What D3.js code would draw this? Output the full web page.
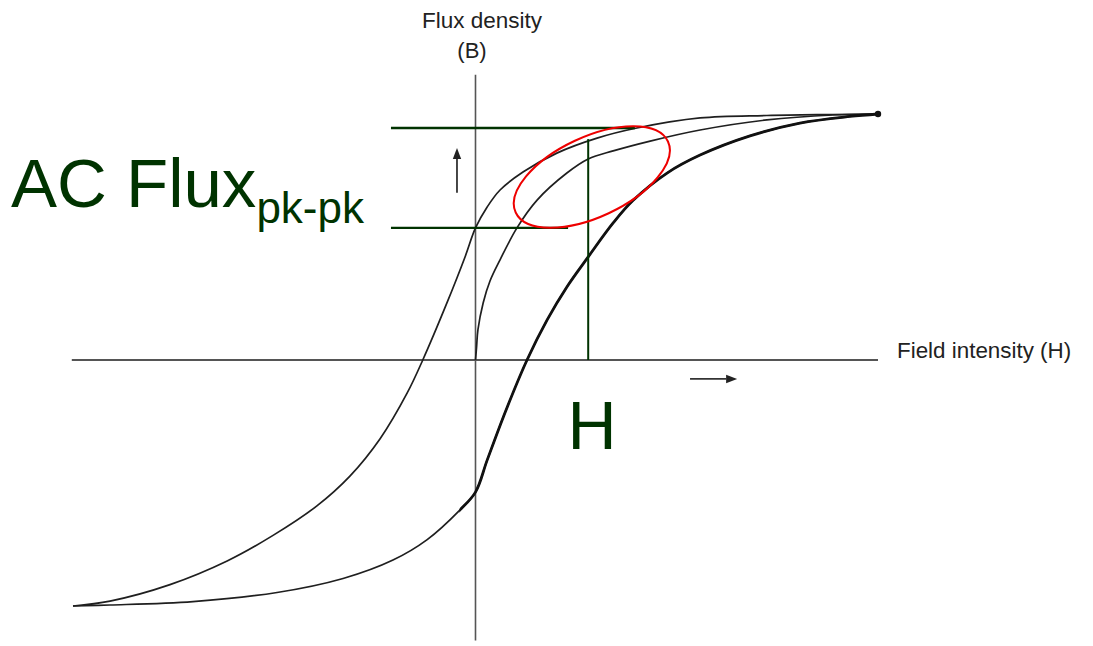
<!DOCTYPE html>
<html>
<head>
<meta charset="utf-8">
<script src="https://cdn.jsdelivr.net/npm/d3@7"></script>
<style>
  html, body { margin: 0; padding: 0; background: #ffffff; }
  svg { display: block; }
</style>
</head>
<body>
<script>
// B-H hysteresis loop, field intensity H and flux density B normalised to ±1.

// Descending branch (coming down from positive saturation), listed by rising H
const descendingBranch = [
  [-1.000, -1.000], [-0.908, -0.980], [-0.759, -0.913], [-0.617, -0.817],
  [-0.503, -0.713], [-0.394, -0.593], [-0.312, -0.472], [-0.237, -0.320],
  [-0.170, -0.135], [-0.131, 0.000], [-0.071, 0.232], [-0.026, 0.419],
  [0.000, 0.537], [0.029, 0.622], [0.061, 0.691], [0.118, 0.764],
  [0.202, 0.841], [0.302, 0.902], [0.401, 0.943], [0.558, 0.984],
  [0.724, 0.994], [0.888, 0.998], [1.000, 1.000]
];

// Ascending branch (going up from negative saturation)
const ascendingBranch = [
  [-1.000, -1.000], [-0.908, -0.996], [-0.702, -0.982], [-0.493, -0.945],
  [-0.329, -0.888], [-0.205, -0.813], [-0.120, -0.730], [-0.039, -0.610],
  [0.000, -0.537], [0.029, -0.407], [0.076, -0.203], [0.128, 0.000],
  [0.178, 0.163], [0.227, 0.297], [0.280, 0.419], [0.342, 0.557],
  [0.391, 0.648], [0.476, 0.760], [0.558, 0.833], [0.682, 0.911],
  [0.806, 0.963], [0.930, 0.990], [1.000, 1.000]
];

// Initial magnetisation curve from the demagnetised origin
const initialCurve = [
  [0.000, 0.000], [0.0025, 0.049], [0.006, 0.122], [0.019, 0.232],
  [0.036, 0.321], [0.061, 0.407], [0.103, 0.537], [0.153, 0.650],
  [0.227, 0.760], [0.280, 0.817], [0.342, 0.850], [0.434, 0.890],
  [0.558, 0.935], [0.724, 0.976], [0.888, 0.996], [1.000, 1.000]
];

// AC operating swing: flux limits, bias field and the minor-loop centre
const acFluxLevels = [0.537, 0.943];     // B at bottom / top of the swing
const acFluxLineStart = -0.21;           // H where the level lines begin
const acFluxLineEnds = [0.23, 0.396];    // H where each level line ends
const biasField = 0.28;                  // operating H
const biasFieldTop = 0.898;              // B where the H marker stops
const minorLoopCentre = [0.289, 0.744];  // centre of the highlighted minor loop

const axisTitleB = ["Flux density", "(B)"];
const axisTitleH = "Field intensity (H)";
const swingLabel = "AC Flux";
const swingSubscript = "pk-pk";
const biasLabel = "H";

const W = 1093, Hpx = 646;
const svg = d3.select("body").append("svg")
  .attr("width", W).attr("height", Hpx)
  .style("background", "#ffffff");

const x = d3.scaleLinear().domain([-1, 1]).range([73, 878]);
const y = d3.scaleLinear().domain([-1, 1]).range([606, 114]);

const green = "#003300";
const ink = "#1f1f1f";

// Axes
svg.append("line")
  .attr("x1", x(-1.003)).attr("x2", x(1)).attr("y1", y(0)).attr("y2", y(0))
  .attr("stroke", "#555").attr("stroke-width", 1.8);
svg.append("line")
  .attr("x1", x(0)).attr("x2", x(0)).attr("y1", y(1.16)).attr("y2", y(-1.14))
  .attr("stroke", "#555").attr("stroke-width", 1.6);

const line = d3.line()
  .x(d => x(d[0])).y(d => y(d[1]))
  .curve(d3.curveCatmullRom.alpha(0.5));

// Curves
svg.append("path").datum(descendingBranch)
  .attr("d", line).attr("fill", "none")
  .attr("stroke", ink).attr("stroke-width", 1.7);
svg.append("path").datum(initialCurve)
  .attr("d", line).attr("fill", "none")
  .attr("stroke", ink).attr("stroke-width", 1.7);
svg.append("path").datum(ascendingBranch)
  .attr("d", line).attr("fill", "none")
  .attr("stroke", ink).attr("stroke-width", 1.7);

// The rising branch is drawn heavier from just left of H = 0 upward
svg.append("clipPath").attr("id", "heavy")
  .append("rect")
  .attr("x", x(-0.04)).attr("y", 0)
  .attr("width", W - x(-0.04)).attr("height", Hpx);
svg.append("path").datum(ascendingBranch)
  .attr("d", line).attr("fill", "none")
  .attr("clip-path", "url(#heavy)")
  .attr("stroke", "#111").attr("stroke-width", 2.8);

// Saturation point
svg.append("circle")
  .attr("cx", x(1)).attr("cy", y(1)).attr("r", 3.2).attr("fill", "#111");

// Direction arrows
function arrow(x1, y1, x2, y2) {
  const ang = Math.atan2(y2 - y1, x2 - x1);
  const len = 11, half = 4.2;
  const bx = x2 - len * Math.cos(ang), by = y2 - len * Math.sin(ang);
  svg.append("line")
    .attr("x1", x1).attr("y1", y1).attr("x2", bx).attr("y2", by)
    .attr("stroke", "#333").attr("stroke-width", 1.8);
  const px = -Math.sin(ang) * half, py = Math.cos(ang) * half;
  svg.append("path")
    .attr("d", `M${x2},${y2}L${bx + px},${by + py}L${bx - px},${by - py}Z`)
    .attr("fill", "#222");
}
arrow(x(-0.046), y(0.68), x(-0.046), y(0.862));
arrow(x(0.533), y(-0.077), x(0.65), y(-0.077));

// AC flux level lines and bias-field marker
acFluxLevels.forEach((b, i) => {
  svg.append("line")
    .attr("x1", x(acFluxLineStart)).attr("x2", x(acFluxLineEnds[i]))
    .attr("y1", y(b)).attr("y2", y(b))
    .attr("stroke", green).attr("stroke-width", 2.4);
});
svg.append("line")
  .attr("x1", x(biasField)).attr("x2", x(biasField))
  .attr("y1", y(biasFieldTop)).attr("y2", y(0))
  .attr("stroke", green).attr("stroke-width", 2);

// Minor loop outline
svg.append("ellipse")
  .attr("cx", 0).attr("cy", 0).attr("rx", 84).attr("ry", 40)
  .attr("transform", `translate(${x(minorLoopCentre[0])},${y(minorLoopCentre[1])}) rotate(-25)`)
  .attr("fill", "none").attr("stroke", "#ee0000").attr("stroke-width", 2);

// Axis titles
const font = "'Liberation Sans', Arial, Helvetica, sans-serif";
svg.append("text")
  .attr("x", 482).attr("y", 28).attr("text-anchor", "middle")
  .attr("font-family", font).attr("font-size", 22.5).attr("fill", "#222")
  .text(axisTitleB[0]);
svg.append("text")
  .attr("x", 472).attr("y", 58).attr("text-anchor", "middle")
  .attr("font-family", font).attr("font-size", 22).attr("fill", "#222")
  .text(axisTitleB[1]);
svg.append("text")
  .attr("x", 897).attr("y", 358)
  .attr("font-family", font).attr("font-size", 22.4).attr("fill", "#222")
  .text(axisTitleH);

// AC flux label with subscript
const t = svg.append("text")
  .attr("x", 11).attr("y", 207)
  .attr("font-family", font).attr("font-size", 69).attr("fill", green);
t.append("tspan").text(swingLabel);
t.append("tspan").attr("dy", 16).attr("font-size", 44).text(swingSubscript);

// Bias field label
svg.append("text")
  .attr("x", 592).attr("y", 449).attr("text-anchor", "middle")
  .attr("font-family", font).attr("font-size", 68).attr("fill", green)
  .text(biasLabel);
</script>
</body>
</html>
